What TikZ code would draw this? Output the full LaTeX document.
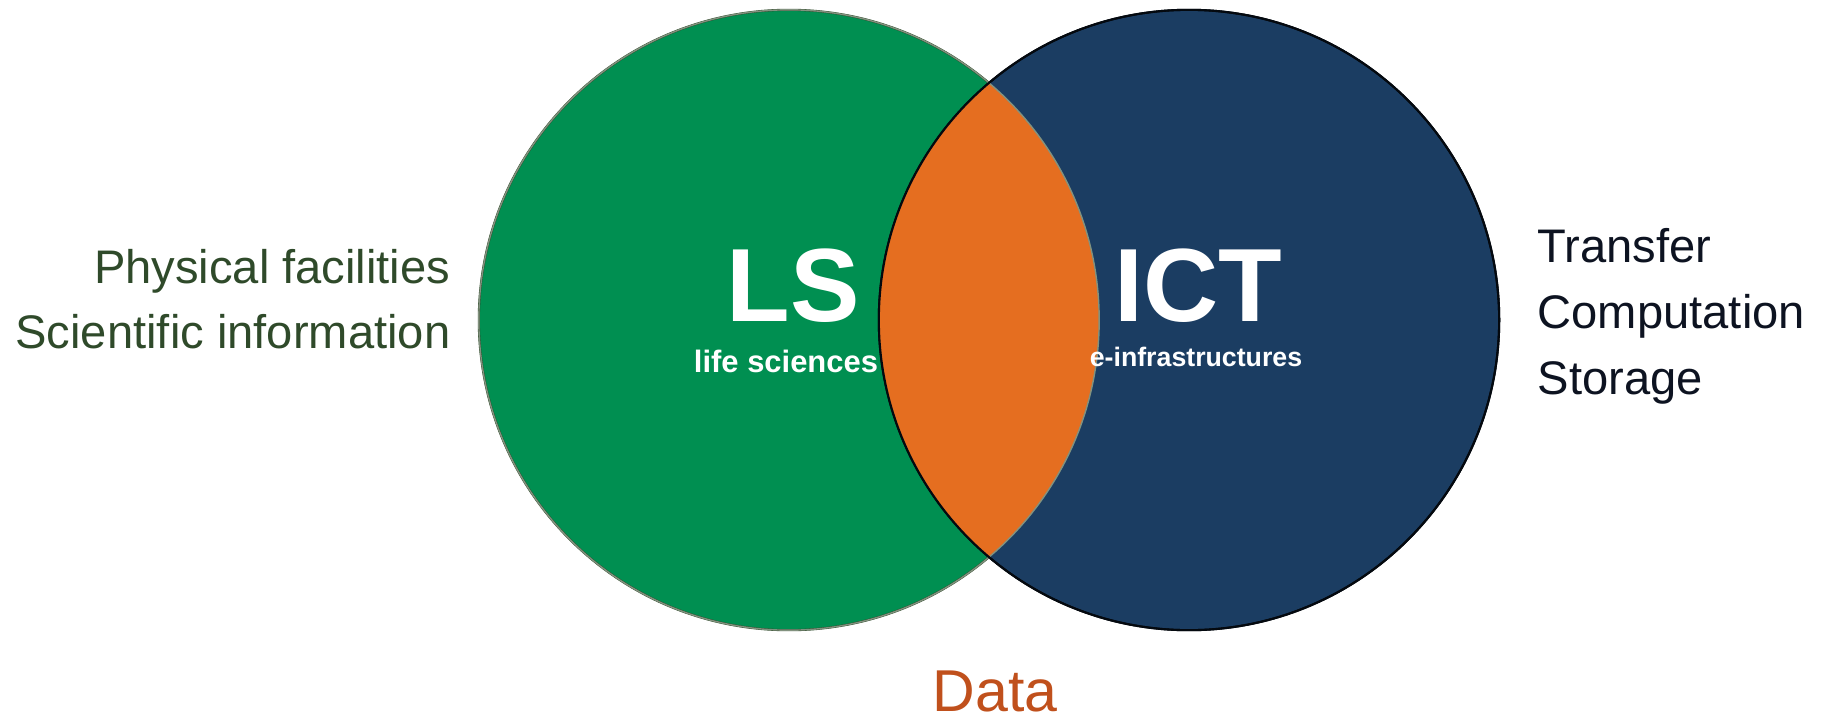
\documentclass[tikz,border=0pt]{standalone}
\usepackage{fontspec}
\setmainfont{Liberation Sans}
\usetikzlibrary{calc}
\definecolor{lsgreen}{HTML}{008F51}
\definecolor{ictblue}{HTML}{1B3D62}
\definecolor{dataorange}{HTML}{E56E20}
\definecolor{lstext}{HTML}{2F4A2A}
\definecolor{icttext}{HTML}{0D1321}
\definecolor{datatext}{HTML}{C0501C}
\newcommand{\venncircle}[4]{\draw[#4, line width=0.6pt, fill=#3] ( #1 , #2 ) circle (3.1cm);}
\newcommand{\bignode}[4]{\node[anchor=base, inner sep=0pt, text=white, font=\bfseries\fontsize{29.6}{34}\selectfont] (#1) at ( #2 , #3 ) {#4};}
\newcommand{\smallnode}[5]{\node[anchor=base, inner sep=0pt, text=white, font=\bfseries\fontsize{#5}{10}\selectfont] (#1) at ( #2 , #3 ) {#4};}

\begin{document}
\begin{tikzpicture}[x=0.01cm, y=-0.01cm]
        \useasboundingbox (0,0) rectangle (1828,721);

        % circles
        \venncircle{789}{320}{lsgreen}{lstext}
        \venncircle{1189}{320}{ictblue}{black!85!ictblue}

        % overlap
        \begin{scope}
            \clip (789,320) circle (3.1cm);
            \fill[dataorange] (1189,320) circle (3.1cm);
        \end{scope}
        \draw[lstext!60, line width=0.4pt] (789,320) circle (3.1cm);
        \draw[black!85!ictblue, line width=0.6pt] (1189,320) circle (3.1cm);

        % inside labels
        \bignode{ls}{793}{321}{LS}
        \bignode{ict}{1198}{321}{ICT}
        \smallnode{lsname}{786}{372}{life sciences}{8.8}
        \smallnode{ictname}{1196}{366}{e-infrastructures}{7.6}

        % left
        \node[anchor=base east, inner sep=0pt, text=lstext, font=\fontsize{13.4}{16}\selectfont] (phys) at (451,283) {Physical facilities};
        \node[anchor=base east, inner sep=0pt, text=lstext, font=\fontsize{13.4}{16}\selectfont] (sci) at (451,348) {Scientific information};

        % right
        \node[anchor=base west, inner sep=0pt, text=icttext, font=\fontsize{13.4}{16}\selectfont] (transfer) at (1537,262) {Transfer};
        \node[anchor=base west, inner sep=0pt, text=icttext, font=\fontsize{13.4}{16}\selectfont] (comp) at (1537,328) {Computation};
        \node[anchor=base west, inner sep=0pt, text=icttext, font=\fontsize{13.4}{16}\selectfont] (stor) at (1537,394) {Storage};

        % bottom
        \node[anchor=base, inner sep=0pt, text=datatext, font=\fontsize{16.8}{20}\selectfont] (data) at (995,711) {Data};

    \end{tikzpicture}
\end{document}
